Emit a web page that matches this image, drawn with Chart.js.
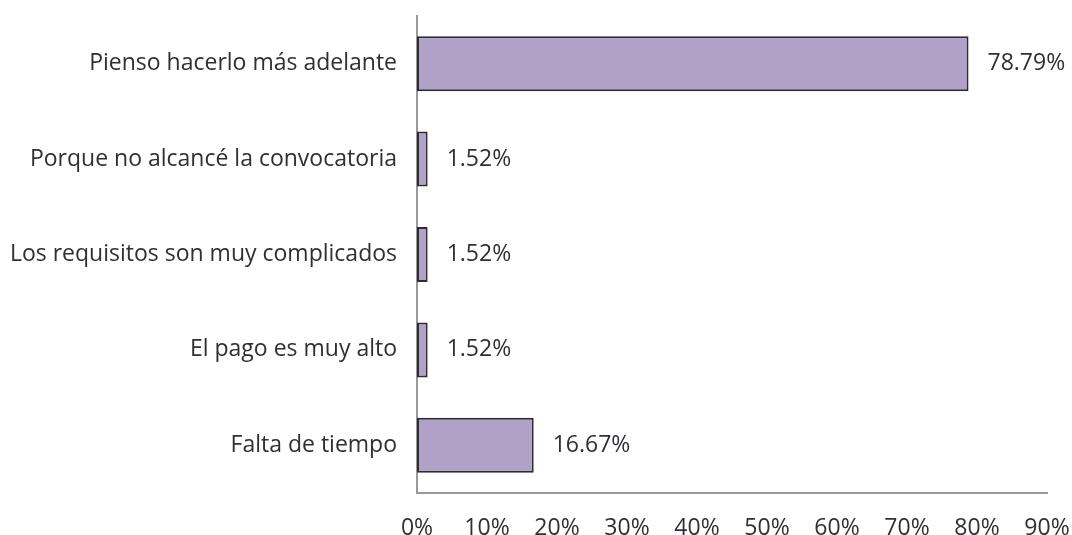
<!DOCTYPE html>
<html>
<head>
<meta charset="utf-8">
<script src="https://cdn.jsdelivr.net/npm/chart.js@4/dist/chart.umd.min.js"></script>
<style>
  html, body { margin: 0; padding: 0; background: #fff; }
  #chart { display: block; }
</style>
</head>
<body>
<canvas id="chart" width="1072" height="535"></canvas>
<script>
// chart data
const categories = [
    'Pienso hacerlo más adelante',
    'Porque no alcancé la convocatoria',
    'Los requisitos son muy complicados',
    'El pago es muy alto',
    'Falta de tiempo'
];
const values = [78.79, 1.52, 1.52, 1.52, 16.67];
const xTicksMax = 90;
const xTicksStep = 10;

const textColor = '#2f2f38';
const fontFamily = '"Open Sans", sans-serif';
const fontSize = 23;

// draws the percentage next to each bar
const valueLabels = {
    id: 'valueLabels',
    afterDatasetsDraw(chart) {
        const ctx = chart.ctx;
        const meta = chart.getDatasetMeta(0);
        ctx.save();
        ctx.fillStyle = textColor;
        ctx.font = fontSize + 'px ' + fontFamily;
        ctx.textAlign = 'left';
        ctx.textBaseline = 'middle';
        meta.data.forEach((bar, i) => {
            ctx.fillText(values[i].toFixed(2) + '%', bar.x + 19, bar.y);
        });
        ctx.restore();
    }
};

new Chart(document.getElementById('chart'), {
    type: 'bar',
    data: {
        labels: categories,
        datasets: [{
            data: values,
            backgroundColor: '#b1a0c7',
            borderColor: '#2e2b33',
            borderWidth: 2,
            borderSkipped: false,
            categoryPercentage: 1,
            barPercentage: 0.577
        }]
    },
    options: {
        indexAxis: 'y',
        responsive: false,
        animation: false,
        layout: { padding: { top: 16, right: 25, left: 0, bottom: 0 } },
        plugins: {
            legend: { display: false },
            tooltip: { enabled: false }
        },
        scales: {
            x: {
                min: 0,
                max: xTicksMax,
                grid: { display: false },
                border: { display: true, color: '#9a9a9a', width: 2 },
                ticks: {
                    stepSize: xTicksStep,
                    padding: 14,
                    color: textColor,
                    font: { family: fontFamily, size: fontSize },
                    callback: v => v + '%'
                },
                afterFit(scale) {
                    scale.height = 42;
                    // don't let label overhang grow the chart padding
                    scale.paddingLeft = 0;
                    scale.paddingRight = 0;
                }
            },
            y: {
                grid: { display: false },
                border: { display: true, color: '#9a9a9a', width: 2 },
                ticks: {
                    padding: 12,
                    color: textColor,
                    font: { family: fontFamily, size: fontSize }
                },
                afterFit(scale) {
                    scale.width = 417;
                    scale.paddingTop = 0;
                    scale.paddingBottom = 0;
                }
            }
        }
    },
    plugins: [valueLabels]
});
</script>
</body>
</html>
